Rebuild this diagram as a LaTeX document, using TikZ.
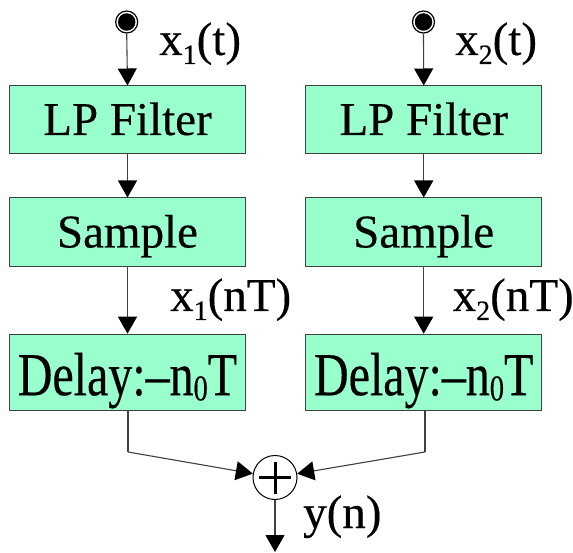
\documentclass[tikz,border=0pt]{standalone}
\usepackage{fontspec}
\setmainfont{Liberation Serif}
\newfontfamily\tms[FakeBold=0.35]{Liberation Serif}
\usetikzlibrary{arrows.meta}
\definecolor{boxfill}{HTML}{99FFCC}
\definecolor{edge}{HTML}{404040}
\newcommand\mysub[2]{\raisebox{-#1pt}{\fontsize{28}{28}\selectfont #2}}
\tikzset{
  blk/.style={draw=edge, line width=1pt, fill=boxfill, minimum width=236pt, inner sep=0pt,
    font=\tms\fontsize{47}{50}\selectfont, text height=30pt, text depth=0pt},
  dlk/.style={blk, text height=46pt},
  lbl/.style={inner sep=0pt, anchor=base west, font=\tms\fontsize{47}{50}\selectfont},
  arr/.style={draw=edge, line width=1.1pt, -{Triangle[width=19pt,length=17pt,black]}},
  plain/.style={draw=edge, line width=1.1pt},
}
\begin{document}
\begin{tikzpicture}[x=1pt,y=-1pt]
\useasboundingbox (0,0) rectangle (573,553);
% left column
\node[circle, draw=black, line width=1.2pt, fill=white, minimum size=22pt, inner sep=0pt] (in1) at (126.7,22) {};
\node[circle, fill=black, minimum size=17.5pt, inner sep=0pt] (in1c) at (in1.center) {};
\node[blk, minimum height=68pt] (lp1) at (127.5,120) {LP Filter};
\node[blk, minimum height=69pt] (sa1) at (127.5,232.5) {Sample};
\node[dlk, minimum height=76pt] (de1) at (127.5,372.2) {\scalebox{1.02}[1.3]{Delay:–n\mysub{4}{0}T}};
% right column
\node[circle, draw=black, line width=1.2pt, fill=white, minimum size=22pt, inner sep=0pt] (in2) at (423.5,22) {};
\node[circle, fill=black, minimum size=17.5pt, inner sep=0pt] (in2c) at (in2.center) {};
\node[blk, minimum height=68pt] (lp2) at (423.7,120) {LP Filter};
\node[blk, minimum height=69pt] (sa2) at (423.7,232.5) {Sample};
\node[dlk, minimum height=76pt] (de2) at (423.7,372.2) {\scalebox{1.02}[1.3]{Delay:–n\mysub{4}{0}T}};
% summing junction
\node[circle, draw=black, line width=1pt, fill=white, minimum size=44pt, inner sep=0pt] (sum) at (275,477.5) {};
\draw[line width=3pt] ([xshift=-16pt]sum.center) -- ([xshift=16pt]sum.center);
\draw[line width=3pt] ([yshift=-16pt]sum.center) -- ([yshift=16pt]sum.center);
\coordinate (c1) at (128,452);
\coordinate (c2) at (425,452);
\coordinate (out) at (275,552);
% connectors
\draw[arr] (in1.south) -- (lp1.north);
\draw[arr] (lp1.south) -- (sa1.north);
\draw[arr] (sa1.south) -- (de1.north);
\draw[arr] (in2.south) -- (lp2.north);
\draw[arr] (lp2.south) -- (sa2.north);
\draw[arr] (sa2.south) -- (de2.north);
\draw[plain] (de1.south -| c1) -- (c1);
\draw[arr] (c1) -- (sum);
\draw[plain] (de2.south -| c2) -- (c2);
\draw[arr] (c2) -- (sum);
\draw[arr] (sum) -- (out);
% labels
\node[lbl] (l1) at (159,55) {x\mysub{9}{1}(t)};
\node[lbl] (l2) at (455,55) {x\mysub{9}{2}(t)};
\node[lbl] (l3) at (170,311) {x\mysub{9}{1}(nT)};
\node[lbl] (l4) at (452.5,311) {x\mysub{9}{2}(nT)};
\node[lbl] (l5) at (303,528) {y(n)};
\end{tikzpicture}
\end{document}
